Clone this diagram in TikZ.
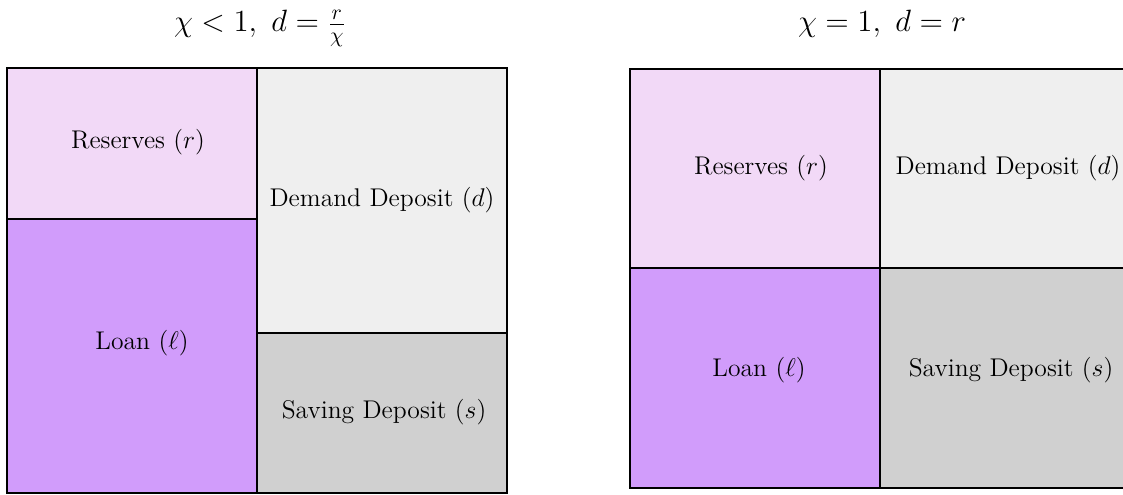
\RequirePackage{fix-cm}
\documentclass[tikz,border=0pt]{standalone}
\usepackage{amsmath}
\usepackage{amssymb}
\definecolor{reservecol}{HTML}{F2D9F7}
\definecolor{loancol}{HTML}{D19CFB}
\definecolor{demandcol}{HTML}{EFEFEF}
\definecolor{savingcol}{HTML}{D0D0D0}

\begin{document}
\begin{tikzpicture}[x=0.5pt, y=0.5pt,
    cell/.style={draw=black, line width=1pt},
    lbl/.style={font=\fontsize{12.8pt}{15pt}\selectfont, inner sep=0pt},
    ttl/.style={font=\fontsize{15.4pt}{18pt}\selectfont, inner sep=0pt, anchor=base}]

    \useasboundingbox (0,0) rectangle (1123,494);
    \clip (0,0) rectangle (1123,494);

    % chi < 1
    \filldraw[cell, fill=reservecol] (7,275) rectangle (257,426);
    \filldraw[cell, fill=loancol] (7,1) rectangle (257,275);
    \filldraw[cell, fill=demandcol] (257,161) rectangle (507,426);
    \filldraw[cell, fill=savingcol] (257,1) rectangle (507,161);

    \node[ttl] (titleless) at (260,462) {$\chi < 1,\ d = \frac{r}{\chi}$};
    \node[lbl] (resless) at (138,352) {Reserves $(r)$};
    \node[lbl] (loanless) at (142,151) {Loan $(\ell)$};
    \node[lbl] (demless) at (382,294) {Demand Deposit $(d)$};
    \node[lbl] (savless) at (384,82) {Saving Deposit $(s)$};

    % chi = 1
    \filldraw[cell, fill=reservecol] (630,226) rectangle (880,425);
    \filldraw[cell, fill=loancol] (630,6) rectangle (880,226);
    \filldraw[cell, fill=demandcol] (880,226) rectangle (1130,425);
    \filldraw[cell, fill=savingcol] (880,6) rectangle (1130,226);

    \node[ttl] (titleeq) at (882,462) {$\chi = 1,\ d = r$};
    \node[lbl] (reseq) at (761,326) {Reserves $(r)$};
    \node[lbl] (loaneq) at (759,124) {Loan $(\ell)$};
    \node[lbl] (demeq) at (1008,326) {Demand Deposit $(d)$};
    \node[lbl] (saveq) at (1011,124) {Saving Deposit $(s)$};

\end{tikzpicture}
\end{document}
